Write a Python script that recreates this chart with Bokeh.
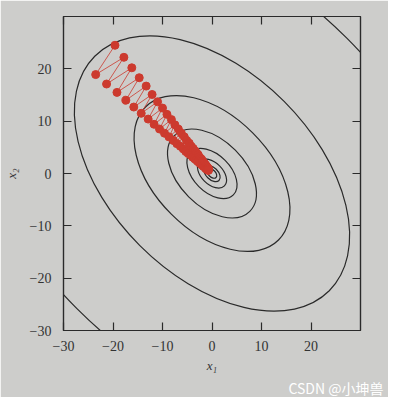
from bokeh.plotting import figure
from bokeh.models import LinearAxis, FixedTicker, Title
from bokeh.embed import file_html
from bokeh.resources import INLINE

# tick positions and labels
ticks = [-30, -20, -10, 0, 10, 20]
tick_labels = ["−30", "−20", "−10", "0", "10", "20"]

# contour ellipses (centred at origin): full major / minor axis lengths, tilt in degrees
ell_major = [124, 67, 38, 21.6, 12.2, 7.1, 4.0, 2.3]
ell_minor = [73, 39, 22, 12.6, 7.1, 4.1, 2.3, 1.35]
ell_angle = -45

# gradient-descent iterates: upper-right row and lower-left row (alternating)
right_x = [-19.6, -17.8, -16.2, -14.7, -13.3, -12.1, -11.0, -10.0, -9.1, -8.2, -7.5, -6.8,
           -6.2, -5.6, -5.1, -4.6, -4.2, -3.8, -3.4, -3.1, -2.8, -2.6, -2.3, -2.1, -1.9,
           -1.8, -1.6, -1.4, -1.3, -1.2, -1.1, -1.0, -0.9, -0.8, -0.7, -0.7]
right_y = [24.5, 22.2, 20.2, 18.3, 16.7, 15.1, 13.7, 12.5, 11.3, 10.3, 9.3, 8.5, 7.7, 7.0,
           6.3, 5.8, 5.2, 4.8, 4.3, 3.9, 3.6, 3.2, 2.9, 2.7, 2.4, 2.2, 2.0, 1.8, 1.6, 1.5,
           1.4, 1.2, 1.1, 1.0, 0.9, 0.8]
left_x = [-23.5, -21.3, -19.2, -17.4, -15.8, -14.3, -12.9, -11.7, -10.6, -9.6, -8.7, -7.8,
          -7.1, -6.4, -5.8, -5.3, -4.8, -4.3, -3.9, -3.5, -3.2, -2.9, -2.6, -2.4, -2.1,
          -1.9, -1.8, -1.6, -1.4, -1.3, -1.2, -1.1, -1.0, -0.9, -0.8, -0.7]
left_y = [18.9, 17.1, 15.5, 14.0, 12.7, 11.5, 10.4, 9.4, 8.5, 7.7, 7.0, 6.3, 5.7, 5.2, 4.7,
          4.2, 3.8, 3.5, 3.1, 2.8, 2.6, 2.3, 2.1, 1.9, 1.7, 1.6, 1.4, 1.3, 1.2, 1.0, 0.9,
          0.9, 0.8, 0.7, 0.6, 0.6]

path_x, path_y = [], []
for rx, ry, lx, ly in zip(right_x, right_y, left_x, left_y):
    path_x += [rx, lx]
    path_y += [ry, ly]

paper = "#cdcdcb"
ink = "#2a2a2a"
red = "#cc3a2e"
serif = "Liberation Serif"

p = figure(frame_width=297, frame_height=314, x_range=(-30, 30), y_range=(-30, 30),
           output_backend="svg", toolbar_location=None,
           min_border_left=57, min_border_top=16, min_border_right=28, min_border_bottom=0)
p.background_fill_color = paper
p.border_fill_color = paper
p.outline_line_color = ink
p.outline_line_width = 1.2
p.grid.visible = False

for w, h in zip(ell_major, ell_minor):
    p.ellipse(x=0, y=0, width=w, height=h, angle=ell_angle, angle_units="deg",
              fill_color=None, line_color=ink, line_width=1.2)

p.line(path_x, path_y, line_color=red, line_width=1, line_alpha=0.8)
p.scatter(path_x, path_y, size=8, fill_color=red, line_color=red)

overrides = {t: s for t, s in zip(ticks, tick_labels)}
blank = {t: "" for t in ticks}

p.add_layout(LinearAxis(), "above")
p.add_layout(LinearAxis(), "right")

for ax in p.axis:
    ax.ticker = FixedTicker(ticks=ticks)
    ax.major_tick_in = 8
    ax.major_tick_out = 0
    ax.minor_tick_line_color = None
    ax.axis_line_color = ink
    ax.axis_line_width = 1.2
    ax.major_tick_line_color = ink
    ax.major_tick_line_width = 1.2
    ax.major_label_overrides = overrides
    ax.major_label_text_font = serif
    ax.major_label_text_font_size = "14px"
    ax.major_label_text_color = "#333333"
    ax.major_label_standoff = 12

for ax in (p.above[0], p.right[0]):
    ax.major_label_overrides = blank
    ax.major_label_standoff = 0

bottom = p.below[0]
left = p.left[0]
bottom.major_label_standoff = 10
bottom.axis_label = "x₁"
left.axis_label = "x₂"
for ax in (bottom, left):
    ax.axis_label_text_font = serif
    ax.axis_label_text_font_style = "italic"
    ax.axis_label_text_font_size = "13px"
    ax.axis_label_text_color = "#333333"
    ax.axis_label_standoff = 8
bottom.axis_label_standoff = 4

wm = Title(text="CSDN @小坤兽", align="right", text_font="Noto Sans CJK SC",
           text_font_size="14px", text_font_style="normal", text_color="white",
           standoff=0, offset=-23)
p.add_layout(wm, "below")

open("out.html", "w").write(file_html(p, INLINE))
